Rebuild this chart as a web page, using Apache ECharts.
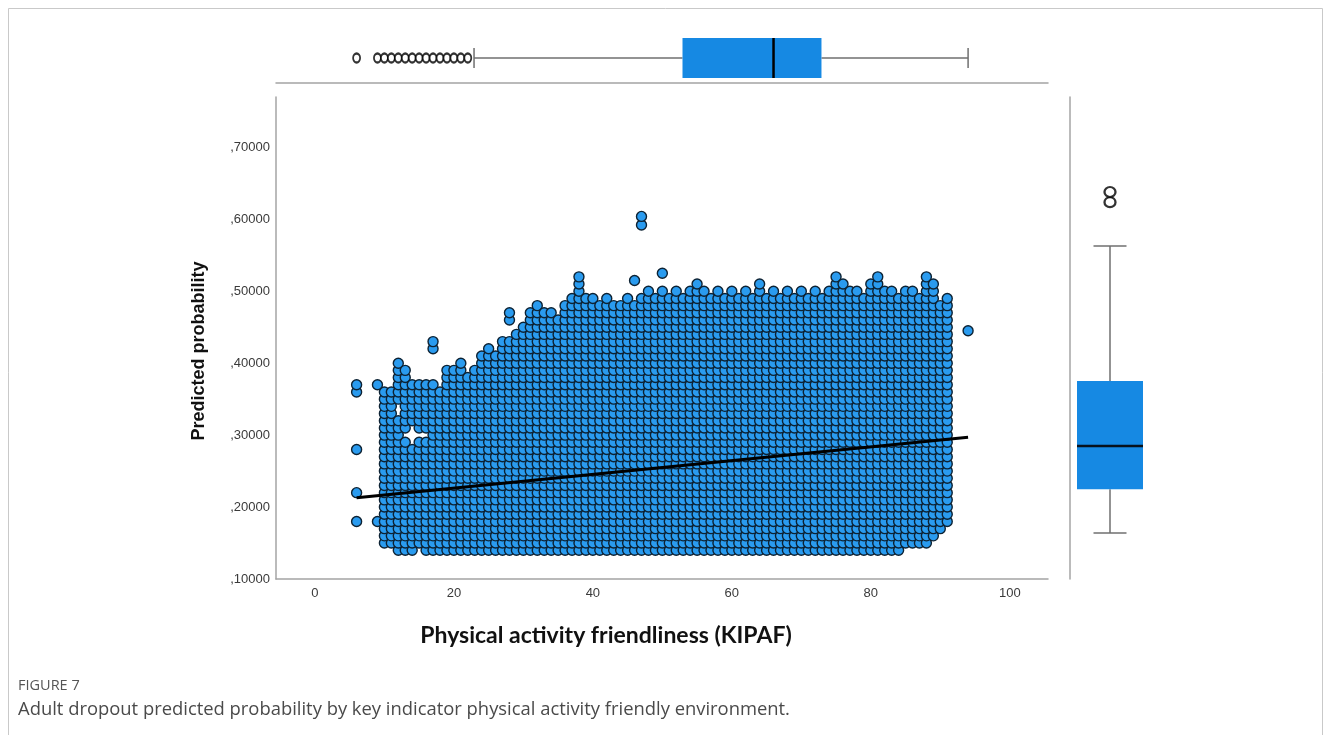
<!DOCTYPE html>
<html>
<head>
<meta charset="utf-8">
<title>Adult dropout predicted probability by KIPAF</title>
<script src="https://cdn.jsdelivr.net/npm/echarts@6/dist/echarts.min.js"></script>
<style>
  html, body { margin: 0; padding: 0; background: #ffffff; }
  #chart { width: 1330px; height: 735px; }
</style>
</head>
<body>
<div id="chart"></div>
<script>
// KIPAF score of each column of observations
const kipafColumns = [6, 9, 10, 11, 12, 13, 14, 15, 16, 17, 18, 19, 20, 21, 22, 23, 24, 25, 26, 27, 28, 29,
  30, 31, 32, 33, 34, 35, 36, 37, 38, 39, 40, 41, 42, 43, 44, 45, 46, 47, 48, 49, 50, 51, 52, 53, 54, 55,
  56, 57, 58, 59, 60, 61, 62, 63, 64, 65, 66, 67, 68, 69, 70, 71, 72, 73, 74, 75, 76, 77, 78, 79, 80, 81,
  82, 83, 84, 85, 86, 87, 88, 89, 90, 91, 94];

// Predicted probabilities in each column, in hundredths ("a-b" = every hundredth from a to b)
const probabilityColumns = [
  "18,22,28,36,37", "18,37", "15-36", "15-36", "14-32,35-40", "14-29,31-39", "14-28,32-37", "15-29,31-37",
  "14-29,31-37", "14-37,42,43", "14-36", "14-39", "14-39", "14-40", "14-38", "14-39", "14-41", "14-42",
  "14-41", "14-43", "14-43,46,47", "14-44", "14-45", "14-47", "14-48", "14-47", "14-47", "14-46", "14-48",
  "14-49", "14-50,51,52", "14-49", "14-49", "14-48", "14-49", "14-48", "14-48", "14-49", "14-48,51.5",
  "14-49,59.2,60.4", "14-50", "14-49", "14-50,52.5", "14-49", "14-50", "14-49", "14-50", "14-51",
  "14-50", "14-49", "14-50", "14-49", "14-50", "14-49", "14-50", "14-49", "14-51", "14-49", "14-50",
  "14-49", "14-50", "14-49", "14-50", "14-49", "14-50", "14-49", "14-50", "14-52", "14-51", "14-50",
  "14-50", "14-49", "14-51", "14-52", "14-50", "14-50", "14-49", "15-50", "15-50", "15-49", "15-52",
  "16-51", "17-48", "18-49", "44.5"
];

// Linear fit of predicted probability on KIPAF
const fitLine = [[6, 0.213], [94, 0.297]];

// Marginal box plots: [lower whisker, Q1, median, Q3, upper whisker]
const kipafBox = [22.9, 52.9, 66.0, 72.9, 94.0];
const kipafOutliers = [6, 9, 10, 11, 12, 13, 14, 15, 16, 17, 18, 19, 20, 21, 22];
const probabilityBox = [0.138, 0.198, 0.257, 0.346, 0.531];
const probabilityOutliers = [0.591, 0.605];

// Axis ticks
const xTicks = [0, 20, 40, 60, 80, 100];
const yTicks = [0.1, 0.2, 0.3, 0.4, 0.5, 0.6, 0.7];
const yTickLabels = [",10000", ",20000", ",30000", ",40000", ",50000", ",60000", ",70000"];

function expandColumn(spec) {
  const out = [];
  spec.split(',').forEach(function (part) {
    if (part.indexOf('-') > 0) {
      const ends = part.split('-').map(Number);
      for (let v = ends[0]; v <= ends[1]; v++) out.push(v / 100);
    } else {
      out.push(Number(part) / 100);
    }
  });
  return out;
}

const scatterData = [];
kipafColumns.forEach(function (x, i) {
  expandColumn(probabilityColumns[i]).forEach(function (y) { scatterData.push([x, y]); });
});

const BOX_BLUE = '#1689e3';
const WHISKER = '#6f6f6f';
const AXIS_GREY = '#a4a4a4';

// Box plot drawn with whisker caps half the box thickness
function boxRenderer(horizontal, halfBox, halfCap) {
  return function (params, api) {
    const v = [api.value(0), api.value(1), api.value(2), api.value(3), api.value(4)];
    const p = v.map(function (d) {
      return horizontal ? api.coord([d, 0.5]) : api.coord([0.5, d]);
    });
    const c = horizontal ? p[0][1] : p[0][0];
    const lineStyle = { stroke: WHISKER, lineWidth: 1.5 };
    const children = [];
    function seg(a, b, style) {
      children.push({ type: 'line', shape: { x1: a[0], y1: a[1], x2: b[0], y2: b[1] }, style: style });
    }
    if (horizontal) {
      seg([p[0][0], c], [p[1][0], c], lineStyle);
      seg([p[3][0], c], [p[4][0], c], lineStyle);
      seg([p[0][0], c - halfCap], [p[0][0], c + halfCap], lineStyle);
      seg([p[4][0], c - halfCap], [p[4][0], c + halfCap], lineStyle);
      children.push({ type: 'rect', shape: { x: p[1][0], y: c - halfBox, width: p[3][0] - p[1][0], height: 2 * halfBox },
        style: { fill: BOX_BLUE } });
      seg([p[2][0], c - halfBox], [p[2][0], c + halfBox], { stroke: '#000', lineWidth: 2.5 });
    } else {
      seg([c, p[0][1]], [c, p[1][1]], lineStyle);
      seg([c, p[3][1]], [c, p[4][1]], lineStyle);
      seg([c - halfCap, p[0][1]], [c + halfCap, p[0][1]], lineStyle);
      seg([c - halfCap, p[4][1]], [c + halfCap, p[4][1]], lineStyle);
      children.push({ type: 'rect', shape: { x: c - halfBox, y: p[3][1], width: 2 * halfBox, height: p[1][1] - p[3][1] },
        style: { fill: BOX_BLUE } });
      seg([c - halfBox, p[2][1]], [c + halfBox, p[2][1]], { stroke: '#07111c', lineWidth: 2.5 });
    }
    return { type: 'group', children: children };
  };
}

const chart = echarts.init(document.getElementById('chart'), null, { renderer: 'canvas' });

const tickFont = { fontFamily: "'Liberation Sans', Arial, sans-serif", fontSize: 13, color: '#3a3a3a' };

chart.setOption({
  animation: false,
  backgroundColor: '#ffffff',
  grid: [
    { left: 276, top: 97, width: 772, height: 482 },   // scatter
    { left: 276, top: 33, width: 772, height: 50 },    // KIPAF box plot
    { left: 1070, top: 97, width: 80, height: 482 }    // probability box plot
  ],
  xAxis: [
    {
      gridIndex: 0, type: 'value', min: -5.6, max: 105.5,
      axisLine: { show: true, onZero: false, lineStyle: { color: AXIS_GREY, width: 1.5 } },
      axisTick: { show: false }, splitLine: { show: false },
      axisLabel: Object.assign({ customValues: xTicks, margin: 8 }, tickFont)
    },
    {
      gridIndex: 1, type: 'value', min: -5.6, max: 105.5,
      axisLine: { show: true, onZero: false, lineStyle: { color: AXIS_GREY, width: 1.5 } },
      axisTick: { show: false }, axisLabel: { show: false }, splitLine: { show: false }
    },
    {
      gridIndex: 2, type: 'value', min: 0, max: 1, show: false
    }
  ],
  yAxis: [
    {
      gridIndex: 0, type: 'value', min: 0.1, max: 0.77,
      axisLine: { show: true, onZero: false, lineStyle: { color: AXIS_GREY, width: 1.5 } },
      axisTick: { show: false }, splitLine: { show: false },
      axisLabel: Object.assign({
        customValues: yTicks, margin: 6,
        formatter: function (v) {
          const i = yTicks.findIndex(function (t) { return Math.abs(t - v) < 1e-9; });
          return i >= 0 ? yTickLabels[i] : '';
        }
      }, tickFont)
    },
    {
      gridIndex: 1, type: 'value', min: 0, max: 1, show: false
    },
    {
      gridIndex: 2, type: 'value', min: 0.075, max: 0.735,
      axisLine: { show: true, onZero: false, lineStyle: { color: AXIS_GREY, width: 1.5 } },
      axisTick: { show: false }, axisLabel: { show: false }, splitLine: { show: false }
    }
  ],
  series: [
    {
      type: 'scatter', xAxisIndex: 0, yAxisIndex: 0, silent: true,
      symbol: 'circle', symbolSize: 10,
      itemStyle: { color: '#2a9bef', borderColor: '#0d2233', borderWidth: 1.4, opacity: 1 },
      data: scatterData, z: 2
    },
    {
      type: 'line', xAxisIndex: 0, yAxisIndex: 0, silent: true,
      symbol: 'none', lineStyle: { color: '#000', width: 3 },
      data: fitLine, z: 5
    },
    {
      type: 'custom', xAxisIndex: 1, yAxisIndex: 1, silent: true,
      renderItem: boxRenderer(true, 20, 10),
      encode: { x: [0, 1, 2, 3, 4] },
      data: [kipafBox]
    },
    {
      type: 'scatter', xAxisIndex: 1, yAxisIndex: 1, silent: true,
      symbol: 'circle', symbolSize: [7, 9],
      itemStyle: { color: '#ffffff', borderColor: '#000000', borderWidth: 2 },
      data: kipafOutliers.map(function (x) { return [x, 0.5]; })
    },
    {
      type: 'custom', xAxisIndex: 2, yAxisIndex: 2, silent: true,
      renderItem: boxRenderer(false, 33, 16.5),
      encode: { y: [0, 1, 2, 3, 4] },
      data: [probabilityBox]
    },
    {
      type: 'scatter', xAxisIndex: 2, yAxisIndex: 2, silent: true,
      symbol: 'circle', symbolSize: [11, 10],
      itemStyle: { color: '#ffffff', borderColor: '#000000', borderWidth: 2.2 },
      data: probabilityOutliers.map(function (y) { return [0.5, y]; })
    }
  ],
  graphic: [
    {
      type: 'rect', silent: true, z: -1,
      shape: { x: 8.5, y: 8.5, width: 1314, height: 800 },
      style: { fill: 'none', stroke: '#c9c9c9', lineWidth: 1 }
    },
    {
      type: 'text', x: 199, y: 351, rotation: Math.PI / 2, silent: true,
      style: { text: 'Predicted probability', align: 'center', verticalAlign: 'middle',
        font: "bold 18px 'Liberation Sans', Arial, sans-serif", fill: '#111' }
    },
    {
      type: 'text', x: 606, y: 636, silent: true,
      style: { text: 'Physical activity friendliness (KIPAF)', align: 'center', verticalAlign: 'middle',
        font: "bold 23px Lato, 'Liberation Sans', sans-serif", fill: '#111' }
    },
    {
      type: 'text', x: 18, y: 686, silent: true,
      style: { text: 'FIGURE 7', align: 'left', verticalAlign: 'middle',
        font: "14.5px 'Open Sans', sans-serif", fill: '#555' }
    },
    {
      type: 'text', x: 18, y: 710, silent: true,
      style: { text: 'Adult dropout predicted probability by key indicator physical activity friendly environment.',
        align: 'left', verticalAlign: 'middle', font: "18.4px 'Open Sans', sans-serif", fill: '#4a4a4a' }
    }
  ]
});
</script>
</body>
</html>
